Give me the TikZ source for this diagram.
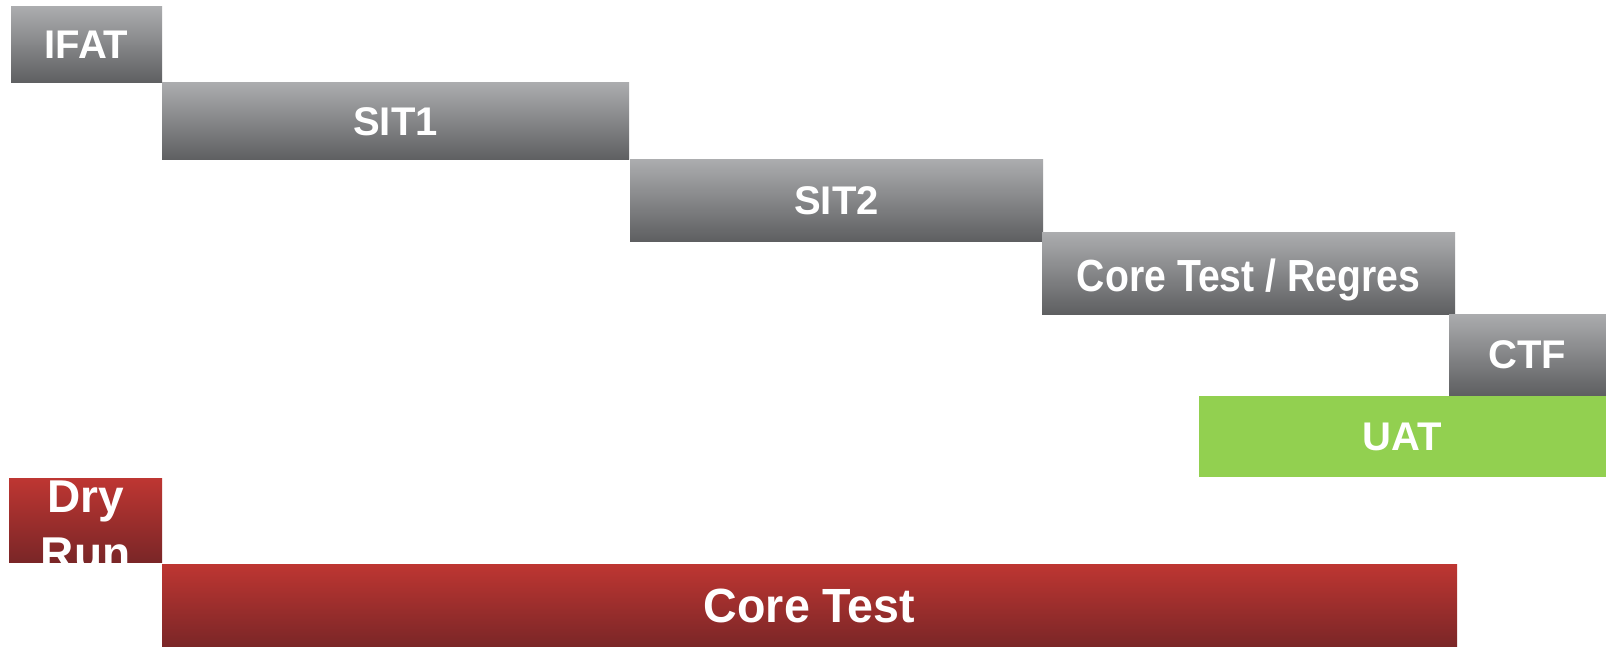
\documentclass[tikz,border=0pt]{standalone}
\usepackage{fontspec}
\setmainfont{Liberation Sans}
\definecolor{gtop}{HTML}{ABACAE}
\definecolor{gbot}{HTML}{5E5F61}
\definecolor{rtop}{HTML}{BE3632}
\definecolor{rbot}{HTML}{7A2627}
\definecolor{uatgreen}{HTML}{92D050}
\tikzset{
  bar/.style={rectangle, inner sep=0pt, outer sep=0pt, anchor=north west,
    text=white, font=\fontsize{40}{47}\selectfont\bfseries, text depth=0pt},
  graybar/.style={bar, top color=gtop, bottom color=gbot},
  redbar/.style={bar, top color=rtop, bottom color=rbot},
  greenbar/.style={bar, fill=uatgreen},
}
\begin{document}
\begin{tikzpicture}[x=1pt,y=-1pt]
\fill[white] (0,0) rectangle (1606,647);
\useasboundingbox (0,0) rectangle (1606,647);
\node[graybar, minimum width=151pt, minimum height=76pt] (ifat) at (11,7) {IFAT};
\node[graybar, minimum width=467pt, minimum height=77pt] (sit1) at (162,83) {SIT1};
\node[graybar, minimum width=413pt, minimum height=81pt] (sit2) at (630,160) {SIT2};
\node[graybar, minimum width=413pt, minimum height=81pt, font=\fontsize{45}{50}\selectfont\bfseries] (ctr) at (1042,233) {\raisebox{-3pt}{\scalebox{0.87}[1]{Core Test / Regres}}};
\node[graybar, minimum width=157pt, minimum height=81pt] (ctf) at (1449,314) {CTF};
\node[greenbar, minimum width=407pt, minimum height=81pt] (uat) at (1199,396) {UAT};
\node[redbar, minimum width=153pt, minimum height=84pt] (dry) at (9,478) {};
\begin{scope}
\clip (dry.north west) rectangle (dry.south east);
\node[inner sep=0pt, text=white, font=\fontsize{46}{57}\selectfont\bfseries, align=center] (drytext) at ([yshift=-5pt]dry.center) {Dry\\Run};
\end{scope}
\node[redbar, minimum width=1295pt, minimum height=83pt, font=\fontsize{48}{56}\selectfont\bfseries] (core) at (162,564) {\scalebox{0.97}[1]{Core Test}};
\end{tikzpicture}
\end{document}
